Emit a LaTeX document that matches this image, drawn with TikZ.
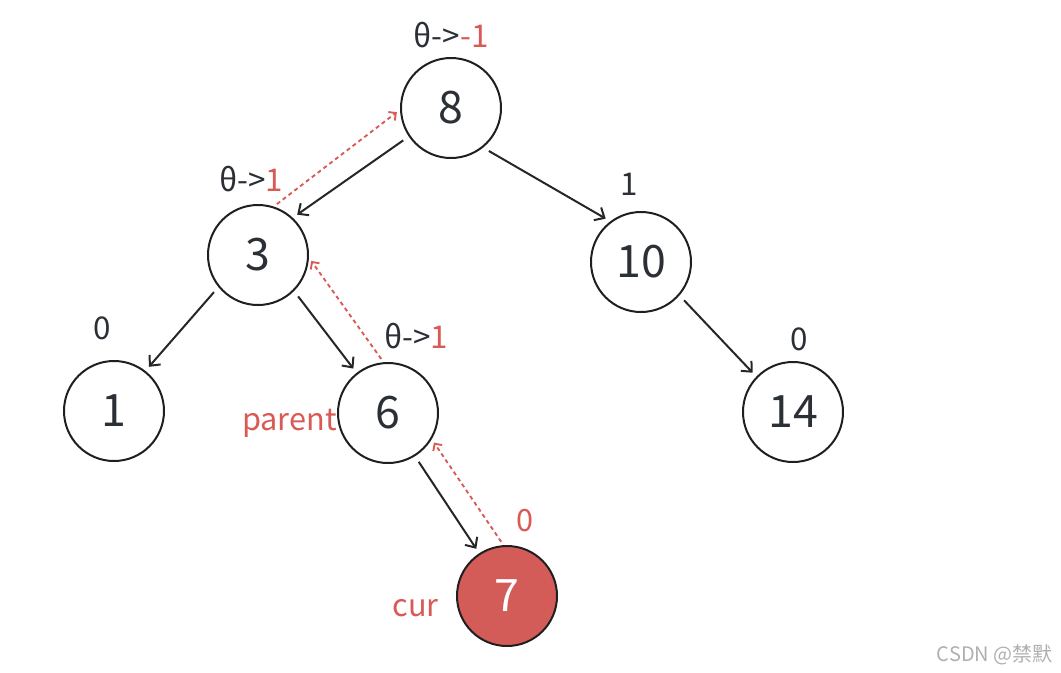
\documentclass[tikz,border=0pt]{standalone}
\usepackage{fontspec}
\setmainfont{Noto Sans CJK SC}
\usetikzlibrary{arrows.meta}
\definecolor{ink}{RGB}{43,47,54}
\definecolor{hot}{RGB}{217,89,84}
\definecolor{hotfill}{RGB}{212,92,88}
\definecolor{mark}{RGB}{175,175,175}

\begin{document}
\begin{tikzpicture}[x=0.75pt,y=-0.75pt,
    vert/.style={circle,draw=black!88,line width=1.5pt,minimum size=75pt,inner sep=0pt,
                 text=ink,font=\fontsize{33.5}{38}\selectfont},
    bal/.style={text=ink,font=\fontsize{23.5}{27}\selectfont,inner sep=0pt},
    tag/.style={text=hot,font=\fontsize{23}{27}\selectfont,inner sep=0pt},
    edge/.style={-{Straight Barb[length=6pt,width=11pt]},line width=1.5pt,black!85,
                 shorten <=5pt,shorten >=4pt},
    back/.style={-{Straight Barb[length=4pt,width=8pt]},line width=1.4pt,hot,
                 dash pattern=on 3pt off 2.5pt,shorten <=3pt,shorten >=3pt}]
\useasboundingbox (0,0) rectangle (1061,672);

\foreach \x/\y/\name in
    {451/108/8,
     258/255/3,
     641/262/10,
     114/411/1,
     388/413/6,
     793/412/14}
    {
    \node[vert] (n\name) at (\x,\y) {\name};
    }
\node[vert,fill=hotfill,text=white] (n7) at (507,596) {7};

% balance factors
\node[bal] (b8) at (451,35) {θ->\textcolor{hot}{-1}};
\node[bal] (b3) at (251,179) {θ->\textcolor{hot}{1}};
\node[bal] (b10) at (629,184) {1};
\node[bal] (b1) at (102,328) {0};
\node[bal] (b6) at (416,336) {θ->\textcolor{hot}{1}};
\node[bal] (b14) at (799,339) {0};
\node[tag] (b7) at (525,521) {0};

\node[tag,anchor=east] (parent) at (337,423) {parent};
\node[tag,anchor=east] (cur) at (439,608) {cur};

% tree edges
\draw[edge] (n8.214) -- (n3.47);
\draw[edge] (n8.-51) -- (n10.127);
\draw[edge] (n3.219) -- (n1.52);
\draw[edge] (n3.-45) -- (n6.128);
\draw[edge] (n10.-41) -- (n14.136);
\draw[edge] (n6.-58) -- (n7.123);

% update path back to root
\draw[back] (n7.94) -- (n6.-31);
\draw[back] (n6.95) -- (n3.-3);
\draw[back] (n3.72) -- (n8.182);

\node[text=mark,font=\fontsize{15}{17}\selectfont,anchor=east,inner sep=0pt] (wm) at (1053,655) {CSDN @禁默};

\end{tikzpicture}
\end{document}
